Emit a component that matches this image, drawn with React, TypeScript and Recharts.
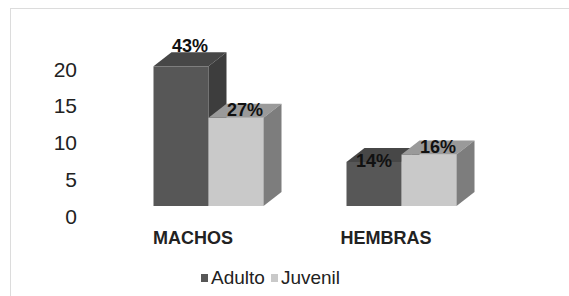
import React from "react";
import { BarChart, Bar, XAxis, YAxis, Legend, LabelList } from "recharts";

const categories = ["MACHOS", "HEMBRAS"];
const adulto = [19, 6];
const juvenil = [12, 7];
const adultoPct = ["43%", "14%"];
const juvenilPct = ["27%", "16%"];
const yTicks = [0, 5, 10, 15, 20];

const data = categories.map((c, i) => ({
  cat: c,
  Adulto: adulto[i],
  Juvenil: juvenil[i],
  aPct: adultoPct[i],
  jPct: juvenilPct[i],
}));

const FONT = "'Liberation Sans', Arial, sans-serif";
const DX = 18;
const DY = 14;

const COLORS = {
  Adulto: { front: "#575757", top: "#474747", side: "#3d3d3d" },
  Juvenil: { front: "#c9c9c9", top: "#9a9a9a", side: "#7d7d7d" },
};

const make3D = (c: { front: string; top: string; side: string }) => (props: any) => {
  const { x, y, width: w, height: h } = props;
  if (w == null || h == null) return null;
  return (
    <g>
      <rect x={x} y={y} width={w} height={h} fill={c.front} />
      <polygon
        points={`${x},${y} ${x + DX},${y - DY} ${x + w + DX},${y - DY} ${x + w},${y}`}
        fill={c.top}
      />
      <polygon
        points={`${x + w},${y} ${x + w + DX},${y - DY} ${x + w + DX},${y + h - DY} ${x + w},${y + h}`}
        fill={c.side}
      />
    </g>
  );
};

const makeLabel = (series: "Adulto" | "Juvenil") => (props: any) => {
  const vb = props.viewBox || props;
  const x = vb.x ?? props.x;
  const y = vb.y ?? props.y;
  const w = vb.width ?? props.width;
  const idx = props.index;
  let cx = x + w / 2 + DX / 2;
  let by = y - 2;
  if (series === "Adulto") {
    if (idx === 0) {
      by = y - 14;
    } else {
      cx = x + w / 2;
      by = y + 5;
    }
  }
  return (
    <text
      x={cx}
      y={by}
      textAnchor="middle"
      fontFamily={FONT}
      fontWeight="bold"
      fontSize={18}
      fill="#111"
    >
      {props.value}
    </text>
  );
};

const YTick = (props: any) => {
  const { x, y, payload } = props;
  return (
    <text
      x={x}
      y={y + 10}
      textAnchor="end"
      dominantBaseline="central"
      fontFamily={FONT}
      fontSize={21}
      fill="#222"
    >
      {payload.value}
    </text>
  );
};

const XTick = (props: any) => {
  const { x, y, payload } = props;
  return (
    <text
      x={x - 15}
      y={y + 32}
      textAnchor="middle"
      dominantBaseline="central"
      fontFamily={FONT}
      fontWeight="bold"
      fontSize={18}
      fill="#222"
    >
      {payload.value}
    </text>
  );
};

const LegendContent = () => (
  <div
    style={{
      display: "flex",
      justifyContent: "flex-start",
      alignItems: "center",
      fontFamily: FONT,
      fontSize: 19,
      color: "#222",
      paddingLeft: 201,
      height: 22,
    }}
  >
    <span style={{ display: "inline-block", width: 7, height: 8, background: COLORS.Adulto.front, marginRight: 3 }} />
    <span style={{ marginRight: 6 }}>Adulto</span>
    <span style={{ display: "inline-block", width: 7, height: 8, background: COLORS.Juvenil.front, marginRight: 3 }} />
    <span>Juvenil</span>
  </div>
);

export default function App() {
  return (
    <div
      style={{
        position: "absolute",
        left: 0,
        top: 0,
        width: 569,
        height: 296,
        background: "#fff",
        overflow: "hidden",
      }}
    >
      <div
        style={{
          position: "absolute",
          left: 10,
          top: 8,
          width: 600,
          height: 300,
          borderTop: "1.5px solid #dcdcdc",
          borderLeft: "1.5px solid #dcdcdc",
        }}
      />
      <BarChart
        width={569}
        height={296}
        data={data}
        margin={{ top: 59, right: 71.5, bottom: 50, left: 0 }}
        barGap={0}
        barSize={55}
        style={{ position: "absolute", left: 0, top: 0 }}
      >
        <XAxis
          dataKey="cat"
          height={40}
          axisLine={false}
          tickLine={false}
          tickSize={0}
          tickMargin={0}
          tick={<XTick />}
          interval={0}
        />
        <YAxis
          width={111.5}
          domain={[0, 20]}
          ticks={yTicks}
          axisLine={false}
          tickLine={false}
          tickSize={0}
          tickMargin={34.5}
          tick={<YTick />}
          interval={0}
        />
        <Legend
          layout="horizontal"
          verticalAlign="middle"
          align="center"
          content={<LegendContent />}
          wrapperStyle={{ position: "absolute", left: 0, top: 267, width: 569 }}
        />
        <Bar dataKey="Adulto" fill={COLORS.Adulto.front} shape={make3D(COLORS.Adulto)} isAnimationActive={false}>
          <LabelList dataKey="aPct" content={makeLabel("Adulto")} />
        </Bar>
        <Bar dataKey="Juvenil" fill={COLORS.Juvenil.front} shape={make3D(COLORS.Juvenil)} isAnimationActive={false}>
          <LabelList dataKey="jPct" content={makeLabel("Juvenil")} />
        </Bar>
      </BarChart>
    </div>
  );
}
